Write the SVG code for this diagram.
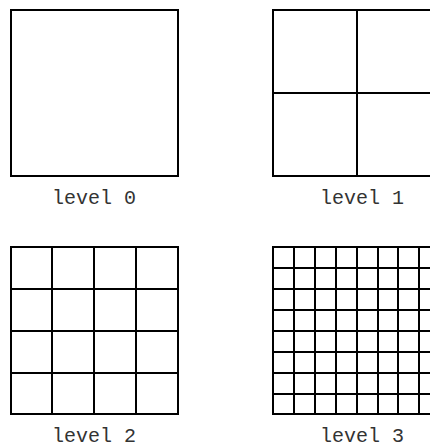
<svg xmlns="http://www.w3.org/2000/svg" width="430" height="448" viewBox="0 0 430 448">
<style>
.b{fill:#fff;stroke:#000;stroke-width:2}
.g{stroke:#000;stroke-width:2;fill:none}
.t{font-family:"Liberation Mono","Courier New",monospace;font-size:20px;fill:#333;text-anchor:middle}
</style>
<rect width="430" height="448" fill="#fff"/>
<g id="level0">
<rect class="b" x="11" y="10" width="167" height="166"/>
<text class="t" x="94" y="204">level 0</text>
</g>
<g id="level1">
<rect class="b" x="273" y="10" width="167" height="166"/>
<path class="g" d="M357 10V176M273 93H440"/>
<text class="t" x="362" y="204">level 1</text>
</g>
<g id="level2">
<rect class="b" x="11" y="247" width="167" height="167"/>
<path class="g" d="M52 247V414M94 247V414M136 247V414M11 289H178M11 331H178M11 373H178"/>
<text class="t" x="94" y="442">level 2</text>
</g>
<g id="level3">
<rect class="b" x="273" y="247" width="167" height="167"/>
<path class="g" d="M294 247V414M315 247V414M336 247V414M357 247V414M378 247V414M398 247V414M419 247V414M273 268H440M273 289H440M273 310H440M273 331H440M273 352H440M273 373H440M273 394H440"/>
<text class="t" x="362" y="442">level 3</text>
</g>
</svg>
